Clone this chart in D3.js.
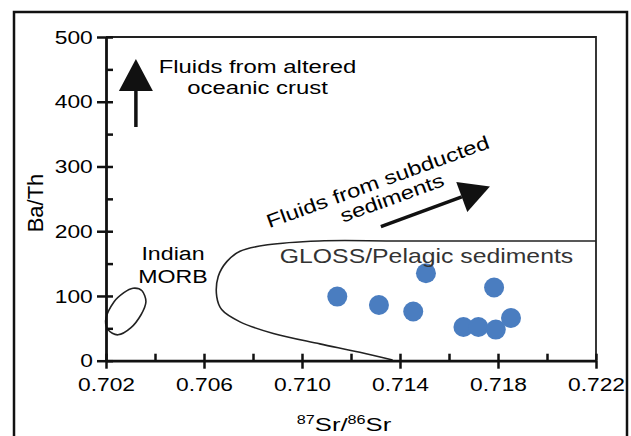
<!DOCTYPE html>
<html>
<head>
<meta charset="utf-8">
<script src="https://cdn.jsdelivr.net/npm/d3@7"></script>
<style>
  body { margin: 0; background: #fff; }
  text { font-family: "Liberation Sans", Arial, sans-serif; }
</style>
</head>
<body>
<div id="chart"></div>
<script>
// Chart size
var svgWidth = 631;
var svgHeight = 436;

// Plot area edges in pixels
var plotLeft = 106, plotRight = 596, plotTop = 37, plotBottom = 360.7;

// Axis ticks
var xMajorTicks = [0.702, 0.706, 0.710, 0.714, 0.718, 0.722];
var xAllTicks = [0.702, 0.704, 0.706, 0.708, 0.710, 0.712, 0.714, 0.716, 0.718, 0.720, 0.722];
var yMajorTicks = [0, 100, 200, 300, 400, 500];
var yAllTicks = [0, 50, 100, 150, 200, 250, 300, 350, 400, 450, 500];

// Samples (87Sr/86Sr vs Ba/Th)
var sampleSr = [0.71144, 0.71314, 0.71454, 0.71506, 0.71784, 0.71659, 0.71720, 0.71791, 0.71853];
var sampleBaTh = [99, 86, 76, 135, 113, 52, 52, 48, 66];

// Indian MORB field outline
var morbSr = [0.70310, 0.70347, 0.70363, 0.70343, 0.70302, 0.70249, 0.70208, 0.70200, 0.70233, 0.70273];
var morbBaTh = [112, 108, 91, 71, 51, 40, 48, 66, 91, 105];

// GLOSS / pelagic sediments field outline
var glossSr = [0.7220, 0.7140, 0.7107, 0.7086, 0.70747, 0.70693, 0.70658, 0.70652, 0.70672, 0.70747, 0.70883, 0.71073, 0.71236, 0.7137];
var glossBaTh = [185, 185, 185, 179, 169, 153, 130, 99, 79, 60, 42, 26, 13, 1];

// Arrows: [start, tip] in data units
var crustArrow = [[0.70322, 361], [0.70322, 466]];
var sedArrow = [[0.71322, 207], [0.71767, 269]];

var svg = d3.select("#chart")
  .append("svg")
  .attr("width", svgWidth)
  .attr("height", svgHeight);

// outer frame (bottom edge runs off the picture)
svg.append("rect")
  .attr("x", 14).attr("y", 12)
  .attr("width", 613).attr("height", 460)
  .attr("fill", "none")
  .attr("stroke", "#111")
  .attr("stroke-width", 2.5);

var x = d3.scaleLinear().domain([0.702, 0.722]).range([plotLeft, plotRight]);
var y = d3.scaleLinear().domain([0, 500]).range([plotBottom, plotTop]);

// thin top and right frame of the plot
svg.append("path")
  .attr("d", `M${plotLeft},${plotTop}H${plotRight}V${plotBottom}`)
  .attr("fill", "none")
  .attr("stroke", "#222")
  .attr("stroke-width", 1.8);

// fields
var line = d3.line()
  .x(d => x(d[0]))
  .y(d => y(d[1]));

svg.append("path")
  .datum(glossSr.map((v, i) => [v, glossBaTh[i]]))
  .attr("d", line.curve(d3.curveCatmullRom.alpha(0.5)))
  .attr("fill", "none")
  .attr("stroke", "#222")
  .attr("stroke-width", 1.6);

svg.append("path")
  .datum(morbSr.map((v, i) => [v, morbBaTh[i]]))
  .attr("d", line.curve(d3.curveCardinalClosed.tension(0.1)))
  .attr("fill", "none")
  .attr("stroke", "#222")
  .attr("stroke-width", 1.6);

// axes: inner ticks for all, crossing ticks for majors
svg.append("g")
  .attr("transform", `translate(${plotLeft},0)`)
  .call(d3.axisLeft(y).tickValues(yAllTicks).tickSize(-7).tickSizeOuter(0).tickFormat(""))
  .call(g => g.select(".domain").remove());

var yAxis = svg.append("g")
  .attr("transform", `translate(${plotLeft},0)`)
  .call(d3.axisLeft(y).tickValues(yMajorTicks).tickSize(9).tickSizeOuter(0));

svg.append("g")
  .attr("transform", `translate(0,${plotBottom})`)
  .call(d3.axisBottom(x).tickValues(xAllTicks).tickSize(-7).tickSizeOuter(0).tickFormat(""))
  .call(g => g.select(".domain").remove());

var xAxis = svg.append("g")
  .attr("transform", `translate(0,${plotBottom})`)
  .call(d3.axisBottom(x).tickValues(xMajorTicks).tickSize(8).tickSizeOuter(0).tickFormat(d3.format(".3f")));

svg.selectAll(".tick line").attr("stroke", "#111").attr("stroke-width", 2.5);
[xAxis, yAxis].forEach(a => a.select(".domain").attr("stroke", "#111").attr("stroke-width", 2.8));

yAxis.selectAll("text")
  .attr("x", -11)
  .attr("transform", "scale(1.2,1)")
  .style("font-size", "19px")
  .attr("fill", "#000");

xAxis.selectAll("text")
  .attr("y", 17)
  .attr("transform", "scale(1.2,1)")
  .style("font-size", "19px")
  .attr("fill", "#000");

// sample points
svg.append("g")
  .selectAll("circle")
  .data(sampleSr)
  .enter()
  .append("circle")
  .attr("cx", d => x(d))
  .attr("cy", (d, i) => y(sampleBaTh[i]))
  .attr("r", 10)
  .attr("fill", "#4a7dc0");

// arrows
function drawArrow(a, headLen, headWidth, width) {
  var x1 = x(a[0][0]), y1 = y(a[0][1]), x2 = x(a[1][0]), y2 = y(a[1][1]);
  var ang = Math.atan2(y2 - y1, x2 - x1);
  var bx = x2 - headLen * Math.cos(ang), by = y2 - headLen * Math.sin(ang);
  var nx = -Math.sin(ang) * headWidth / 2, ny = Math.cos(ang) * headWidth / 2;
  svg.append("line")
    .attr("x1", x1).attr("y1", y1).attr("x2", bx).attr("y2", by)
    .attr("stroke", "#111").attr("stroke-width", width);
  svg.append("path")
    .attr("d", `M${x2},${y2}L${bx + nx},${by + ny}L${bx - nx},${by - ny}Z`)
    .attr("fill", "#111");
}
drawArrow(crustArrow, 32, 34, 3.5);
drawArrow(sedArrow, 30, 32, 3.5);

// labels
function label(parent, tx, ty, txt, size, sx, anchor, color) {
  return parent.append("text")
    .attr("transform", `translate(${tx},${ty}) scale(${sx},1)`)
    .attr("text-anchor", anchor || "middle")
    .style("font-size", size + "px")
    .attr("fill", color || "#000")
    .text(txt);
}

label(svg, 257.5, 72.5, "Fluids from altered", 18.5, 1.29);
label(svg, 257.5, 94, "oceanic crust", 18.5, 1.29);
label(svg, 173, 259.5, "Indian", 19, 1.22);
label(svg, 173, 282.5, "MORB", 19, 1.22);
label(svg, 426.5, 263, "GLOSS/Pelagic sediments", 20, 1.24, "middle", "#333");

var sedLabel = svg.append("g").attr("transform", "translate(380,188) rotate(-20)");
label(sedLabel, 0, 0, "Fluids from subducted", 19, 1.26);
label(sedLabel, 8, 20, "sediments", 19, 1.26);

// axis titles
svg.append("text")
  .attr("transform", "translate(43,203) rotate(-90)")
  .attr("text-anchor", "middle")
  .style("font-size", "22px")
  .text("Ba/Th");

var xTitle = svg.append("text")
  .attr("transform", "translate(344,431) scale(1.35,1)")
  .attr("text-anchor", "middle")
  .style("font-size", "19px");
xTitle.append("tspan").attr("baseline-shift", "super").style("font-size", "12px").text("87");
xTitle.append("tspan").text("Sr/");
xTitle.append("tspan").attr("baseline-shift", "super").style("font-size", "12px").text("86");
xTitle.append("tspan").text("Sr");
</script>
</body>
</html>
